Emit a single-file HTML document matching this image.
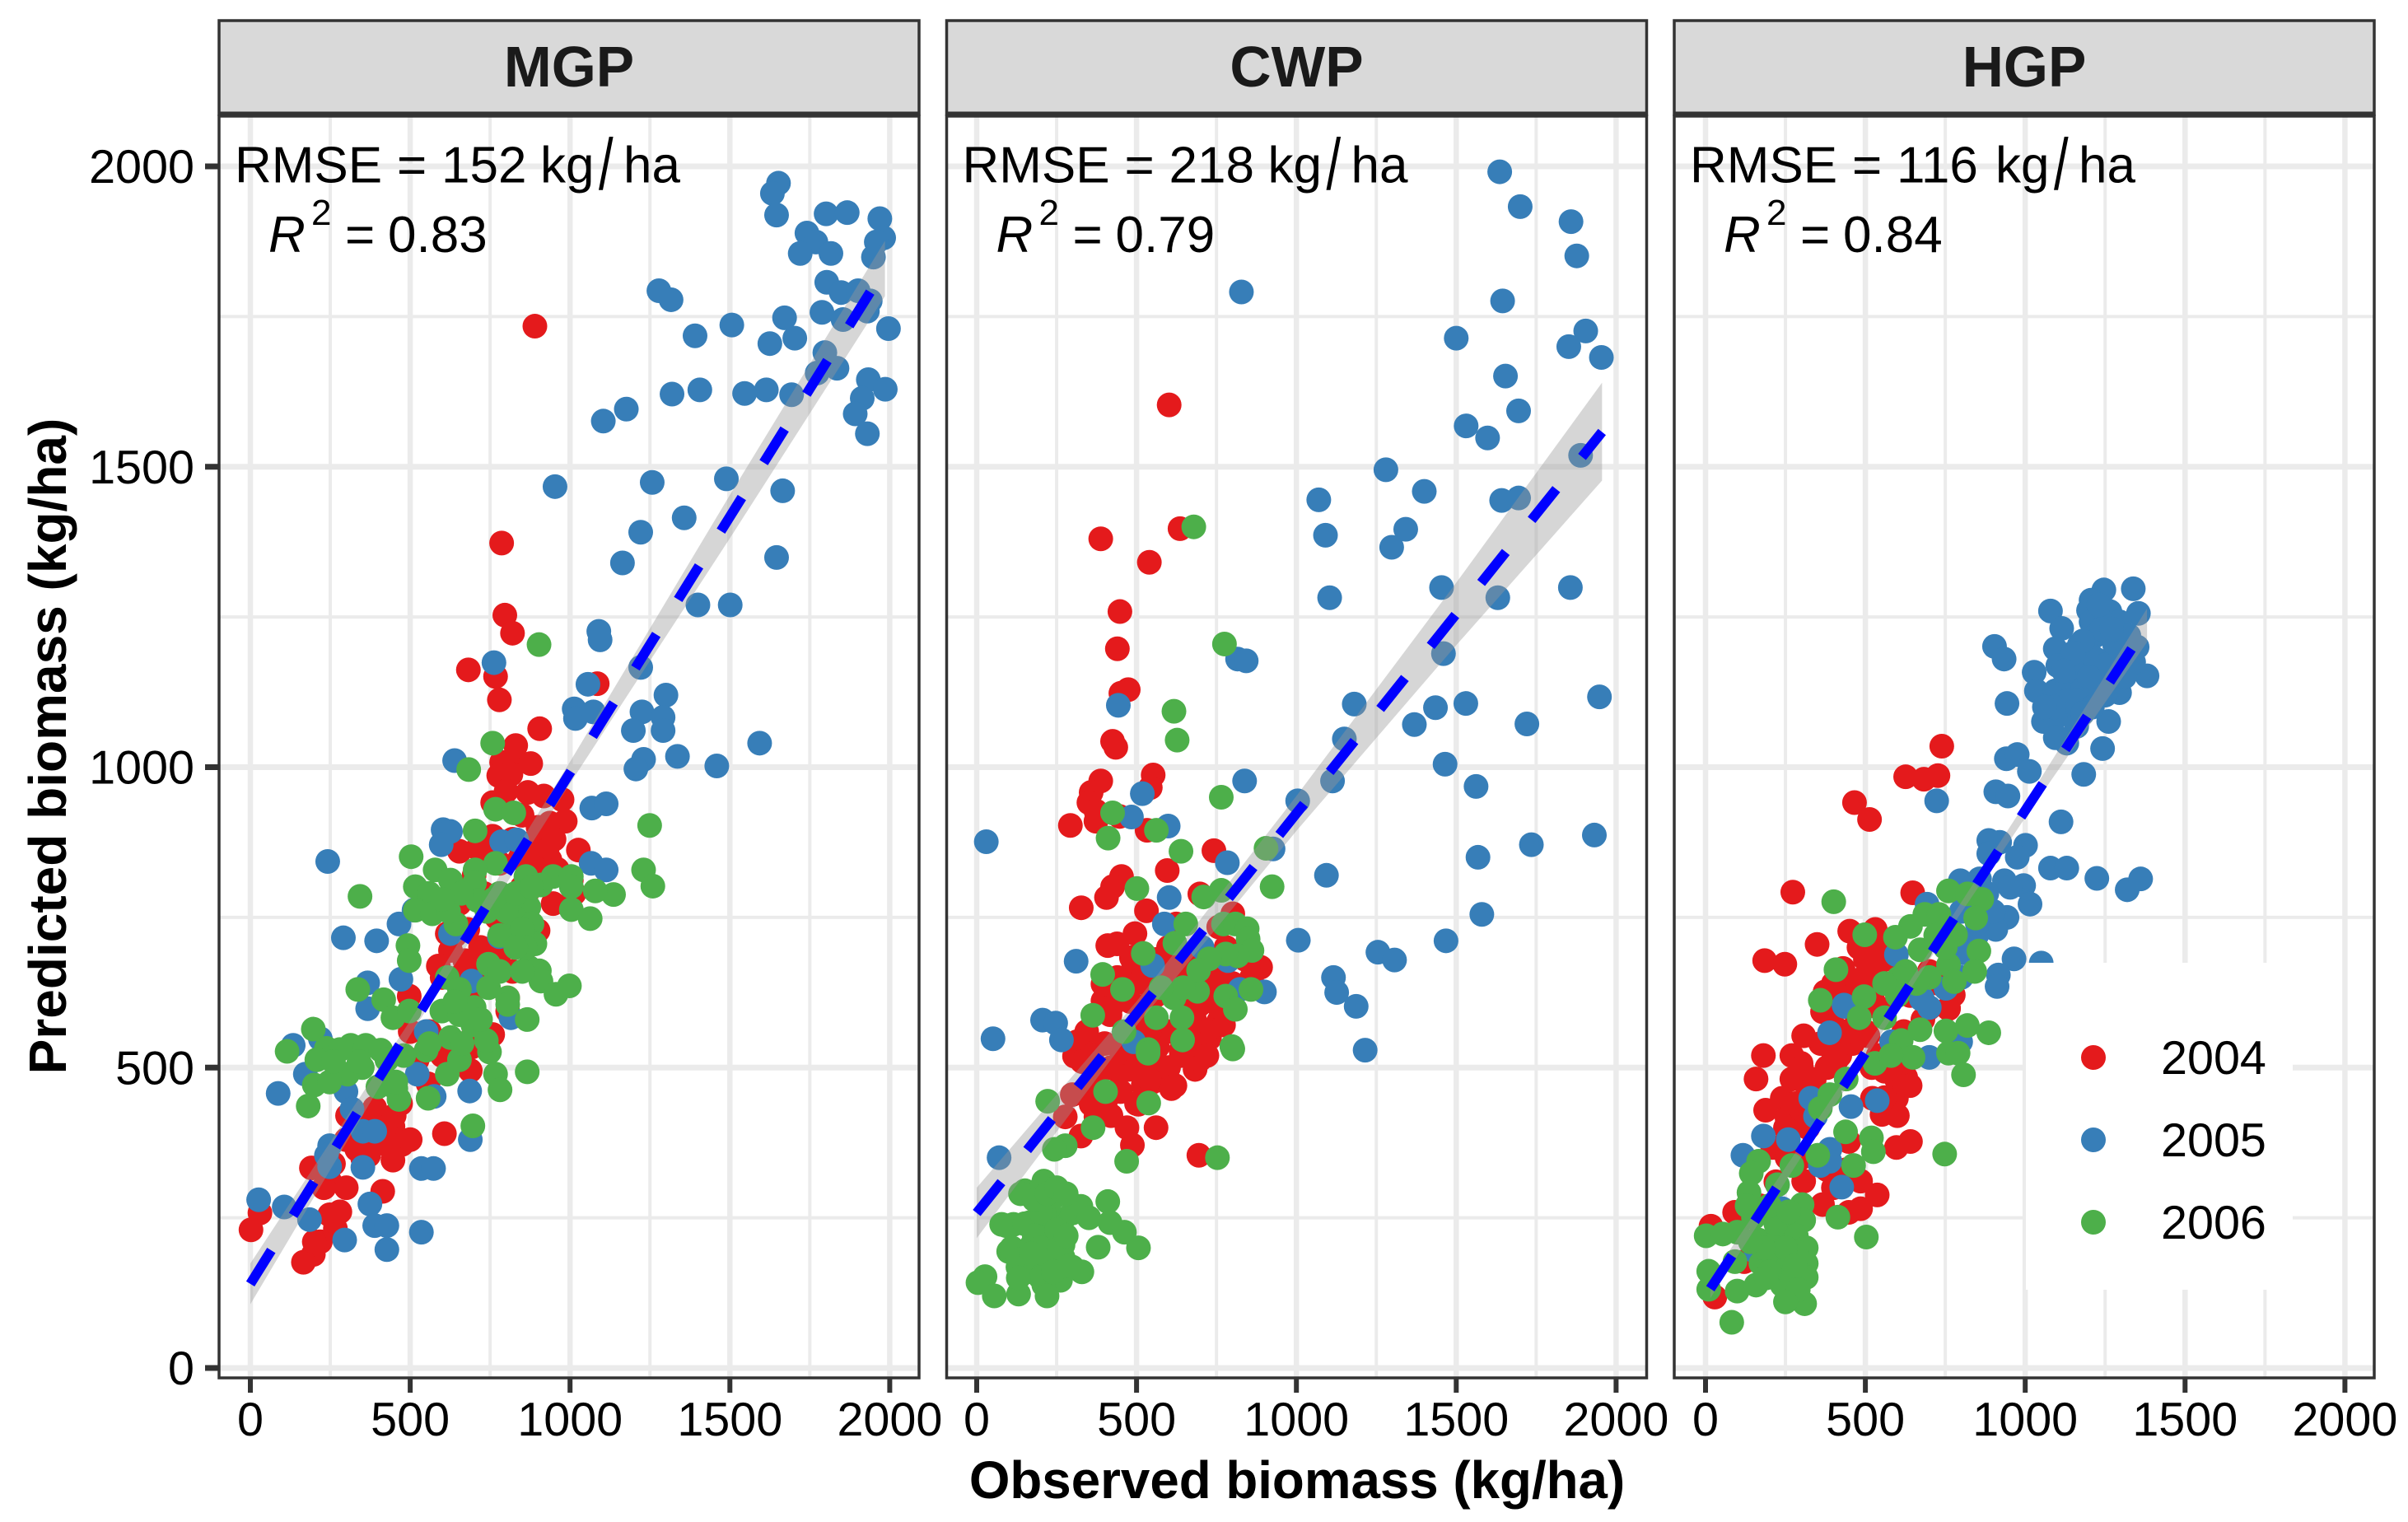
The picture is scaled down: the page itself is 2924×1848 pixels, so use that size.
<!DOCTYPE html>
<html lang="en">
<head>
<meta charset="utf-8">
<title>Observed vs predicted biomass</title>
<style>
html,body{margin:0;padding:0;background:#fff;}
svg{display:block;font-family:"Liberation Sans",Arial,sans-serif;}
</style>
</head>
<body>
<svg id="chart" xmlns="http://www.w3.org/2000/svg" width="2924" height="1848" viewBox="0 0 2924 1848"></svg>
<script>
const xTicks = [0, 500, 1000, 1500, 2000];
const yTicks = [0, 500, 1000, 1500, 2000];
const xMinor = [250, 750, 1250, 1750];
const yMinor = [250, 750, 1250, 1750];
const years = ['2004', '2005', '2006'];
const panelNames = ['MGP', 'CWP', 'HGP'];
const rmseValues = ['152', '218', '116'];
const r2Values = ['0.83', '0.79', '0.84'];

const mgpFitX = [0, 500, 1000, 1500, 1985];
const mgpFit = [140, 566, 991, 1417, 1830];
const mgpLo = [106, 554, 973, 1381, 1784];
const mgpHi = [174, 578, 1009, 1453, 1876];
const cwpFitX = [0, 500, 1000, 1500, 1956];
const cwpFit = [258, 590, 923, 1255, 1558];
const cwpLo = [216, 570, 894, 1203, 1477];
const cwpHi = [300, 610, 952, 1307, 1640];
const hgpFitX = [15, 350, 700, 1000, 1381];
const hgpFit = [132, 403, 686, 928, 1236];
const hgpLo = [116, 393, 679, 916, 1208];
const hgpHi = [148, 413, 693, 940, 1264];

const mgp2004 = [[890,1734],[786,1373],[796,1253],[820,1223],[682,1162],[767,1151],[1085,1139],[779,1112],[905,1064],[830,1036],[824,1013],[786,1008],[877,1006],[777,986],[815,988],[868,958],[758,941],[918,952],[975,946],[985,910],[937,907],[758,885],[711,865],[654,860],[881,874],[928,862],[1026,862],[843,848],[937,846],[1004,812],[1013,790],[947,773],[862,784],[730,790],[654,773],[616,723],[900,728],[786,695],[862,700],[626,695],[588,669],[671,678],[692,661],[497,619],[692,605],[805,616],[758,555],[805,594],[556,473],[688,495],[399,418],[304,420],[446,402],[474,372],[446,346],[607,390],[352,348],[191,333],[248,311],[300,300],[414,294],[30,258],[2,230],[248,255],[266,232],[219,210],[197,189],[166,176],[427,372],[333,364],[370,354],[389,433],[522,513],[597,524],[692,534],[800,960],[850,920],[900,900],[950,880],[870,860],[820,880],[780,840],[730,850],[700,820],[900,830],[960,830],[850,800],[800,780],[770,750],[680,730],[720,700],[650,650],[640,720],[760,700],[830,730],[820,660],[730,640],[680,630],[600,650],[650,600],[700,560],[560,560],[500,560],[600,520],[450,420],[470,440],[420,400],[380,380],[350,420],[300,380],[260,340],[230,300],[280,260],[200,210],[500,380]];
const mgp2005 = [[1652,1972],[1633,1955],[1646,1919],[1801,1921],[1867,1923],[1969,1913],[1741,1889],[1769,1874],[1816,1855],[1720,1855],[1981,1881],[1958,1874],[1949,1849],[1803,1807],[1848,1790],[1901,1793],[1939,1776],[1278,1793],[1316,1778],[1788,1757],[1854,1745],[1930,1759],[1671,1748],[1506,1736],[1391,1718],[1996,1730],[1703,1714],[1625,1705],[1797,1690],[1835,1664],[1773,1656],[1933,1645],[1986,1629],[1914,1614],[1892,1588],[1930,1555],[1693,1620],[1614,1628],[1546,1622],[1406,1628],[1319,1621],[1176,1596],[1104,1576],[953,1467],[1257,1474],[1489,1480],[1665,1460],[1357,1415],[1221,1391],[1646,1349],[1164,1340],[1400,1270],[1501,1270],[1090,1226],[1094,1212],[1221,1166],[762,1174],[1056,1138],[1300,1120],[1013,1097],[1017,1081],[1073,1092],[1225,1092],[1291,1083],[1198,1061],[1291,1061],[1593,1040],[1230,1013],[1206,997],[1336,1018],[1459,1002],[639,1011],[603,896],[626,893],[597,871],[786,876],[833,879],[1066,840],[1113,829],[242,843],[1068,932],[1113,939],[465,739],[291,716],[395,711],[626,723],[779,718],[367,641],[471,647],[692,644],[367,598],[550,560],[815,583],[512,762],[134,537],[219,548],[172,489],[87,457],[299,460],[522,489],[575,452],[686,461],[688,380],[318,431],[352,394],[389,394],[248,370],[238,354],[248,335],[352,334],[535,332],[573,332],[26,280],[106,268],[185,247],[374,273],[389,237],[427,237],[535,226],[295,213],[427,197]];
const mgp2006 = [[903,1204],[758,1040],[683,996],[503,851],[343,785],[703,894],[767,930],[824,924],[1249,903],[1230,829],[1259,802],[1136,788],[1079,794],[1004,763],[1063,748],[578,829],[626,812],[767,840],[703,829],[516,801],[559,790],[516,762],[569,756],[643,739],[862,818],[947,818],[1004,818],[1004,801],[909,804],[701,807],[711,778],[824,784],[871,767],[824,751],[881,739],[890,706],[493,703],[497,678],[745,672],[871,667],[904,661],[909,644],[956,622],[998,636],[336,630],[417,613],[616,650],[654,630],[745,633],[805,616],[446,583],[497,594],[599,594],[654,588],[696,571],[866,580],[805,605],[197,564],[115,527],[238,532],[208,513],[314,537],[361,537],[408,529],[276,492],[304,489],[200,471],[248,476],[181,436],[455,465],[465,447],[399,468],[616,489],[654,513],[550,529],[626,550],[662,540],[748,526],[738,545],[866,493],[767,489],[781,463],[556,449],[696,403],[427,513],[455,476],[780,790],[800,760],[830,790],[850,730],[780,720],[860,700],[760,780],[740,760],[620,760],[660,790],[600,780],[780,660],[700,600],[640,610],[560,540],[480,520],[350,500],[280,530],[260,510],[340,510],[720,580],[850,660],[830,700],[880,800]];

const cwp2004 = [[602,1603],[388,1380],[540,1341],[448,1259],[440,1197],[474,1129],[451,1123],[425,1043],[435,1033],[636,1397],[552,987],[543,966],[388,977],[358,958],[351,941],[373,927],[373,910],[293,903],[447,918],[533,895],[742,861],[596,828],[453,818],[425,801],[406,783],[327,766],[531,761],[698,789],[495,723],[410,703],[439,706],[888,667],[491,672],[484,683],[624,739],[757,734],[801,756],[395,639],[395,611],[491,639],[550,616],[668,672],[742,655],[698,605],[683,577],[757,577],[728,549],[772,571],[698,538],[624,672],[344,560],[314,543],[417,588],[506,543],[306,519],[373,481],[447,492],[476,497],[550,476],[609,465],[683,497],[698,513],[713,550],[506,439],[403,444],[358,439],[373,418],[299,455],[277,418],[326,386],[561,400],[487,371],[695,354],[343,524],[565,534],[639,529],[476,524],[521,471],[420,500],[450,530],[480,560],[520,590],[560,620],[600,650],[640,610],[680,590],[720,560],[760,600],[800,640],[840,680],[860,650],[560,500],[600,500],[640,520],[680,540],[720,520],[500,440],[450,460],[400,540],[420,600],[440,650],[480,610],[520,650],[560,680],[600,700],[650,640],[700,650],[740,680],[780,700],[600,560],[540,560],[760,640],[350,470],[380,440],[420,420],[470,400],[540,480],[620,470],[330,510],[360,520],[500,500],[740,620],[660,560],[700,620]];
const cwp2005 = [[1636,1991],[1700,1933],[1859,1908],[1877,1851],[1645,1776],[828,1791],[1500,1714],[1905,1726],[1852,1700],[1954,1682],[1654,1651],[1695,1593],[1531,1568],[1598,1548],[1280,1495],[1400,1459],[1070,1445],[1642,1444],[1695,1448],[1889,1519],[1091,1386],[1342,1396],[1298,1366],[1104,1282],[1454,1299],[1857,1299],[1630,1282],[1460,1189],[816,1180],[843,1177],[443,1103],[1181,1105],[1435,1099],[1530,1106],[1369,1071],[1721,1072],[1948,1117],[1150,1047],[1465,1005],[1562,968],[1113,977],[838,977],[518,956],[1004,944],[484,917],[599,902],[30,876],[1568,850],[1735,871],[1932,887],[927,864],[784,841],[1094,820],[602,783],[1580,755],[1006,712],[1255,692],[1307,679],[1468,711],[311,677],[587,739],[705,700],[550,670],[786,678],[1116,650],[1126,625],[1187,602],[900,626],[823,630],[206,579],[247,574],[265,546],[51,548],[1215,529],[491,543],[70,350]];
const cwp2006 = [[679,1400],[775,1205],[617,1093],[627,1045],[765,950],[639,860],[501,798],[924,801],[425,924],[411,882],[562,895],[654,739],[620,707],[521,690],[394,655],[456,630],[363,587],[562,583],[642,583],[644,546],[691,627],[617,616],[646,633],[577,633],[779,619],[809,597],[858,630],[710,784],[765,795],[905,865],[772,739],[809,739],[846,731],[849,714],[861,695],[816,686],[779,689],[727,681],[694,662],[798,535],[461,560],[536,530],[801,531],[536,524],[403,460],[538,441],[222,444],[364,400],[277,370],[243,364],[469,344],[753,350],[210,311],[151,295],[203,301],[237,282],[410,277],[326,269],[299,258],[351,250],[417,242],[462,226],[506,200],[380,201],[78,239],[115,239],[166,242],[225,237],[270,247],[100,194],[173,205],[225,205],[270,205],[129,168],[196,168],[299,168],[329,160],[26,152],[4,142],[55,120],[131,123],[210,138],[262,146],[92,237],[225,266],[137,290],[211,258],[151,178],[270,184],[150,240],[180,220],[200,200],[230,180],[250,230],[260,200],[200,260],[180,280],[220,290],[250,300],[280,290],[160,160],[200,150],[240,160],[280,220],[110,200],[130,180],[170,190],[290,170],[130,150],[220,120]];

const hgp2004 = [[739,1035],[626,984],[683,980],[727,986],[466,941],[513,913],[273,792],[648,791],[349,705],[451,727],[531,730],[185,678],[248,672],[430,665],[537,705],[537,671],[492,649],[463,632],[374,626],[366,593],[775,621],[760,598],[522,615],[715,654],[181,520],[158,481],[307,553],[270,520],[411,514],[299,507],[329,481],[270,481],[240,449],[188,429],[255,416],[597,481],[560,494],[626,484],[597,449],[552,422],[522,449],[461,547],[508,638],[461,599],[381,599],[760,599],[641,377],[597,367],[537,288],[485,311],[485,265],[448,259],[366,272],[307,311],[448,377],[91,259],[17,236],[29,118],[389,534],[508,553],[671,638],[700,599],[448,638],[582,533],[210,367],[255,350],[121,177],[300,500],[340,480],[380,500],[420,520],[460,540],[500,560],[540,600],[560,640],[500,620],[450,600],[400,570],[360,540],[320,460],[300,430],[280,440],[250,400],[320,400],[540,520],[580,500],[620,520],[640,470],[600,420],[560,450],[520,500],[620,560],[680,580],[640,620],[730,640],[700,660],[560,680],[500,680],[480,700],[420,620],[400,640],[440,560],[350,350],[380,330],[400,300],[440,330],[300,350],[220,310],[170,270]];
const hgp2005 = [[1338,1297],[1246,1295],[1206,1278],[1198,1261],[1354,1256],[1079,1260],[1114,1231],[1206,1242],[1265,1259],[1295,1242],[1220,1219],[1324,1219],[1169,1203],[1094,1197],[1280,1203],[904,1201],[934,1180],[1028,1158],[1131,1180],[1206,1186],[1102,1169],[1381,1152],[1339,1175],[1235,1158],[1035,1127],[1094,1127],[1131,1141],[1199,1124],[1295,1124],[1176,1152],[943,1106],[1142,1094],[1057,1076],[1094,1082],[1261,1076],[1094,1049],[1161,1068],[1242,1031],[941,1014],[975,1021],[1013,993],[1183,988],[908,959],[946,952],[723,944],[1112,909],[886,878],[920,875],[1001,870],[975,850],[886,856],[1079,832],[1130,832],[1224,815],[1319,796],[1361,814],[797,811],[857,814],[935,811],[995,803],[953,800],[1015,772],[943,750],[908,730],[849,721],[965,681],[1050,674],[916,654],[912,635],[693,772],[597,688],[805,691],[678,615],[752,632],[433,604],[435,602],[388,558],[675,614],[700,517],[798,543],[582,543],[537,445],[455,435],[329,449],[344,419],[181,386],[259,380],[117,354],[389,364],[359,337],[389,344],[426,301],[225,305],[240,265],[158,193],[1150,1160],[1180,1130],[1220,1180],[1250,1170],[1270,1140],[1200,1150],[1160,1110],[1130,1110],[1090,1100],[1240,1230],[1270,1230],[1300,1190],[1230,1270],[1180,1210],[1150,1190],[1120,1160],[1060,1100],[1100,1050],[1130,1040],[1310,1150],[1350,1200],[1210,1100],[1250,1120],[1180,1090],[800,760],[850,740],[880,790],[830,800],[900,760],[750,700],[800,650],[700,600]];
const hgp2006 = [[401,776],[498,721],[760,794],[864,780],[845,749],[686,755],[730,755],[641,735],[594,717],[782,721],[855,694],[842,660],[671,696],[760,671],[778,643],[626,660],[604,649],[408,663],[359,612],[496,618],[819,789],[481,583],[560,583],[671,563],[752,561],[819,570],[886,558],[612,545],[649,517],[760,524],[790,524],[807,488],[530,507],[440,481],[389,455],[359,432],[438,393],[519,383],[525,360],[748,356],[351,354],[463,337],[270,337],[166,344],[143,324],[136,292],[225,305],[302,272],[414,251],[503,218],[2,220],[54,223],[99,226],[240,239],[307,246],[166,213],[225,213],[284,220],[315,200],[315,174],[315,151],[240,180],[173,174],[10,161],[92,177],[99,128],[158,138],[240,138],[310,107],[82,76],[10,131],[270,148],[195,193],[284,193],[200,160],[250,200],[220,240],[280,170],[180,200],[150,250],[130,270],[200,270],[260,260],[290,130],[250,110],[190,150],[140,210],[720,720],[750,700],[700,650],[660,640],[580,520],[600,620],[560,640]];

const panelPoints = [[mgp2004, mgp2005, mgp2006], [cwp2004, cwp2005, cwp2006], [hgp2004, hgp2005, hgp2006]];
const panelFits = [[mgpFitX, mgpFit, mgpLo, mgpHi], [cwpFitX, cwpFit, cwpLo, cwpHi], [hgpFitX, hgpFit, hgpLo, hgpHi]];

const NS = 'http://www.w3.org/2000/svg';
const svg = document.getElementById('chart');
const colors = ['#E41A1C', '#377EB8', '#4DAF4A'];
const panelLeft = [266, 1149.5, 2033];
const panelWidth = 850;
const xZero = [304, 1186, 2071];
const xPerUnit = 0.3882;
const yPerUnit = 0.7295;
const panelTop = 141;
const panelBottom = 1673;
const stripTop = 25;

function sx(p, v) { return xZero[p] + v * xPerUnit; }
function sy(v) { return 1661 - v * yPerUnit; }
function make(tag, attrs, parent) {
  const el = document.createElementNS(NS, tag);
  for (const k in attrs) el.setAttribute(k, attrs[k]);
  (parent || svg).appendChild(el);
  return el;
}
function addTick(parent, p, v, isX) {
  const el = isX
    ? make('line', {x1: sx(p, v), x2: sx(p, v), y1: panelBottom, y2: 1691, stroke: '#333', 'stroke-width': 6}, parent)
    : make('line', {x1: 249, x2: panelLeft[p], y1: sy(v), y2: sy(v), stroke: '#333', 'stroke-width': 7}, parent);
  
  
}

panelNames.forEach(function (name, p) {
  const g = make('g', {});
  
  
  const L = panelLeft[p];
  const R = L + panelWidth;

  xMinor.forEach(function (v) {
    const el = make('line', {x1: sx(p, v), x2: sx(p, v), y1: panelTop, y2: panelBottom, stroke: '#EBEBEB', 'stroke-width': 4}, g);
    
    
  });
  yMinor.forEach(function (v) {
    const el = make('line', {x1: L, x2: R, y1: sy(v), y2: sy(v), stroke: '#EBEBEB', 'stroke-width': 4}, g);
    
    
  });
  xTicks.forEach(function (v) {
    const el = make('line', {x1: sx(p, v), x2: sx(p, v), y1: panelTop, y2: panelBottom, stroke: '#EBEBEB', 'stroke-width': 6.5}, g);
    
    
  });
  yTicks.forEach(function (v) {
    const el = make('line', {x1: L, x2: R, y1: sy(v), y2: sy(v), stroke: '#EBEBEB', 'stroke-width': 7}, g);
    
    
  });

  panelPoints[p].forEach(function (series, s) {
    series.forEach(function (pt) {
      const c = make('circle', {cx: sx(p, pt[0]), cy: sy(pt[1]), r: 15, fill: colors[s]}, g);
      
      
    });
  });

  const fit = panelFits[p];
  const up = fit[0].map(function (x, i) { return sx(p, x) + ',' + sy(fit[3][i]); });
  const dn = fit[0].map(function (x, i) { return sx(p, x) + ',' + sy(fit[2][i]); }).reverse();
  const ribbon = make('polygon', {points: up.concat(dn).join(' '), fill: 'rgb(153,153,153)', 'fill-opacity': 0.4}, g);
  
  
  const linePts = fit[0].map(function (x, i) { return sx(p, x) + ',' + sy(fit[1][i]); }).join(' ');
  const fitLine = make('polyline', {points: linePts, fill: 'none', stroke: '#0000FF', 'stroke-width': 12, 'stroke-dasharray': '48 50'}, g);
  
  

  const border = make('rect', {x: L, y: panelTop, width: panelWidth, height: panelBottom - panelTop, fill: 'none', stroke: '#333', 'stroke-width': 3.5}, g);
  
  

  const strip = make('rect', {x: L, y: stripTop, width: panelWidth, height: panelTop - stripTop - 2, fill: '#D9D9D9', stroke: '#333', 'stroke-width': 3.5}, g);
  
  
  const band = make('rect', {x: L, y: 135.5, width: panelWidth, height: 7, fill: '#333'}, g);
  
  
  const title = make('text', {x: L + panelWidth / 2, y: 105, 'text-anchor': 'middle', 'font-size': 69.5, 'font-weight': 'bold', fill: '#1A1A1A'}, g);
  title.textContent = name;
  
  

  const rm = make('text', {y: 221.5, 'font-size': 62, fill: '#000'}, g);
  
  
  [['RMSE', 19], ['=', 216], [rmseValues[p], 270], ['kg', 390], ['ha', 491]].forEach(function (part) {
    const t = make('tspan', {x: L + part[1]}, rm);
    t.textContent = part[0];
  });
  const slash = make('text', {transform: 'translate(' + (L + 461) + ',230) scale(0.72,1)', x: 0, y: 0, 'font-size': 88, fill: '#000'}, g);
  slash.textContent = '/';
  
  

  const r2 = make('text', {x: L + 60, y: 306, 'font-size': 62, 'font-style': 'italic', fill: '#000'}, g);
  r2.textContent = 'R';
  
  
  const sup = make('text', {x: L + 112, y: 273, 'font-size': 44, fill: '#000'}, g);
  sup.textContent = '2';
  
  
  const r2v = make('text', {y: 306, 'font-size': 62, fill: '#000'}, g);
  
  
  [['=', 153], [r2Values[p], 205]].forEach(function (part) {
    const t = make('tspan', {x: L + part[1]}, r2v);
    t.textContent = part[0];
  });

  xTicks.forEach(function (v) {
    addTick(g, p, v, true);
    const lab = make('text', {x: sx(p, v), y: 1743, 'text-anchor': 'middle', 'font-size': 57.5, fill: '#000'}, g);
    lab.textContent = String(v);
    
    
  });
});

yTicks.forEach(function (v) {
  addTick(svg, 0, v, false);
  const lab = make('text', {x: 236, y: sy(v) + 20, 'text-anchor': 'end', 'font-size': 57.5, fill: '#000'});
  lab.textContent = String(v);
  
  
});

const xTitle = make('text', {x: 1575, y: 1819, 'text-anchor': 'middle', 'font-size': 63.7, 'font-weight': 'bold', fill: '#000'});
xTitle.textContent = 'Observed biomass (kg/ha)';


const yTitle = make('text', {x: 0, y: 0, transform: 'translate(80,906) rotate(-90)', 'text-anchor': 'middle', 'font-size': 64, 'font-weight': 'bold', fill: '#000'});
yTitle.textContent = 'Predicted biomass (kg/ha)';



const legend = make('g', {});


const legendBg = make('rect', {x: 2460, y: 1169, width: 324, height: 397, fill: '#fff'}, legend);


years.forEach(function (yr, i) {
  const ky = 1284 + i * 100;
  const key = make('circle', {cx: 2542, cy: ky, r: 15, fill: colors[i]}, legend);
  
  
  const label = make('text', {x: 2624, y: ky + 20, 'font-size': 57.5, fill: '#000'}, legend);
  label.textContent = yr;
  
  
});
</script>
</body>
</html>
